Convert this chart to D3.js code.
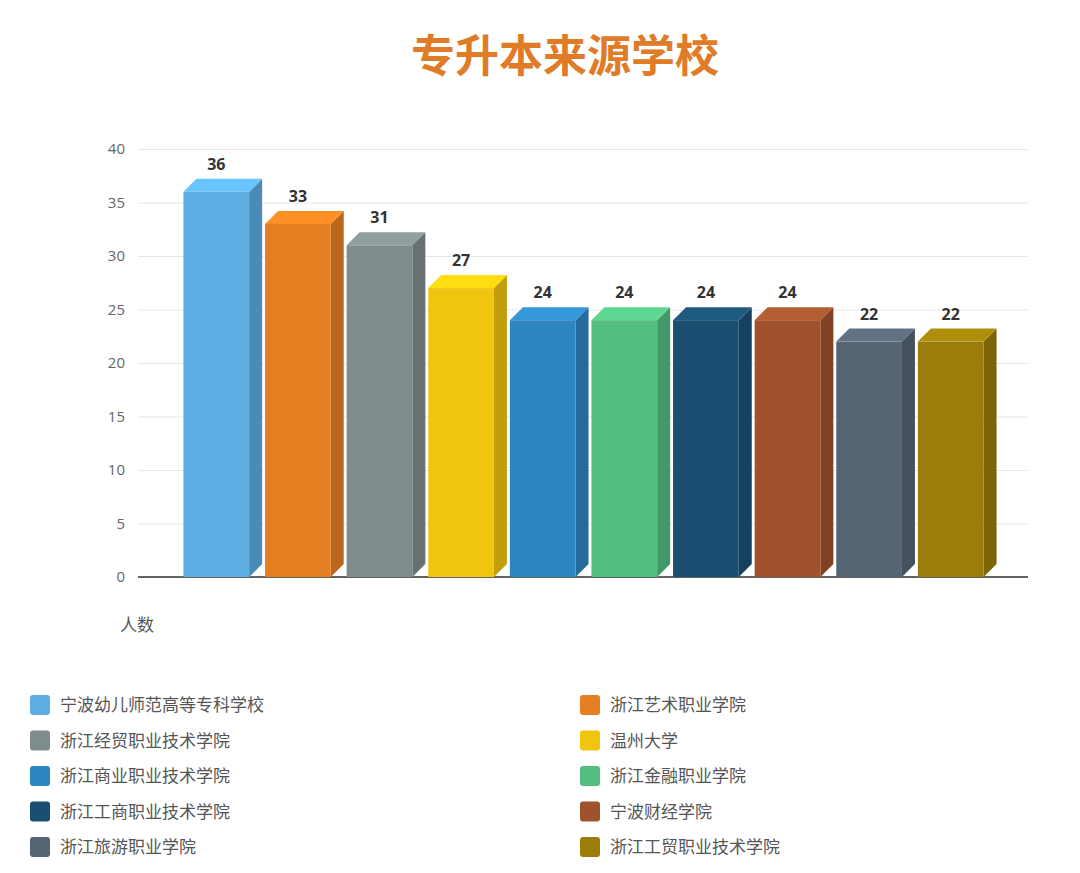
<!DOCTYPE html>
<html>
<head>
<meta charset="utf-8">
<script src="https://cdn.jsdelivr.net/npm/d3@7"></script>
<style>
  body { margin: 0; background: #fff; }
  svg { display: block; font-family: "Noto Sans CJK SC", "Noto Sans", sans-serif; }
</style>
</head>
<body>
<div id="chart"></div>
<script>
// chart data
var schools = ["宁波幼儿师范高等专科学校", "浙江艺术职业学院", "浙江经贸职业技术学院", "温州大学",
  "浙江商业职业技术学院", "浙江金融职业学院", "浙江工商职业技术学院", "宁波财经学院",
  "浙江旅游职业学院", "浙江工贸职业技术学院"];
var counts = [36, 33, 31, 27, 24, 24, 24, 24, 22, 22];
var yTicks = [0, 5, 10, 15, 20, 25, 30, 35, 40];
var colors = ["#5DADE2", "#E67E22", "#7F8C8D", "#F1C40F", "#2E86C1",
  "#52BE80", "#1B4F72", "#A0522D", "#566573", "#9A7D0A"];

var svgWidth = 1080, svgHeight = 873;
var margin = { top: 149, right: 52, bottom: 296, left: 138 };
var width = svgWidth - margin.left - margin.right;
var height = svgHeight - margin.top - margin.bottom;
var depth = 13;

var svg = d3.select("#chart").append("svg")
  .attr("width", svgWidth)
  .attr("height", svgHeight);

// title
svg.append("text")
  .attr("x", 565)
  .attr("y", 72)
  .attr("text-anchor", "middle")
  .style("font-size", "44px")
  .style("font-weight", "bold")
  .style("fill", "#E07B28")
  .text("专升本来源学校");

var chartGroup = svg.append("g")
  .attr("transform", `translate(${margin.left}, ${margin.top})`);

var x = d3.scaleBand()
  .domain(schools)
  .range([3, width - 2])
  .paddingInner(0.195)
  .paddingOuter(0.52);

var y = d3.scaleLinear()
  .domain([0, 40])
  .range([height, 0]);

// gridlines + tick labels
var leftAxis = d3.axisLeft(y).tickValues(yTicks).tickSize(-width).tickPadding(13);
var yAxisG = chartGroup.append("g").call(leftAxis);
yAxisG.select(".domain").remove();
yAxisG.selectAll(".tick line").attr("stroke", "#e6e6e6");
yAxisG.selectAll(".tick text")
  .style("font-size", "15px")
  .style("fill", "#666")
  .style("font-family", "'Open Sans', 'Noto Sans', sans-serif");

// baseline
chartGroup.append("line")
  .attr("x1", 0).attr("x2", width)
  .attr("y1", height).attr("y2", height)
  .attr("stroke", "#333")
  .attr("stroke-width", 1.5);

var data = schools.map(function (s, i) { return { name: s, value: counts[i], color: colors[i] }; });

var bars = chartGroup.selectAll(".bar3d")
  .data(data)
  .enter()
  .append("g")
  .attr("class", "bar3d");

// side face
bars.append("polygon")
  .attr("points", function (d) {
    var x1 = x(d.name) + x.bandwidth(), yt = y(d.value), y0 = y(0);
    return [[x1, yt], [x1 + depth, yt - depth], [x1 + depth, y0 - depth], [x1, y0]].join(" ");
  })
  .attr("fill", function (d) { return d3.color(d.color).darker(0.6); });

// top face
bars.append("polygon")
  .attr("points", function (d) {
    var x0 = x(d.name), x1 = x0 + x.bandwidth(), yt = y(d.value);
    return [[x0, yt], [x0 + depth, yt - depth], [x1 + depth, yt - depth], [x1, yt]].join(" ");
  })
  .attr("fill", function (d) { return d3.color(d.color).brighter(0.35); });

// front face
bars.append("rect")
  .attr("x", function (d) { return x(d.name); })
  .attr("y", function (d) { return y(d.value); })
  .attr("width", x.bandwidth())
  .attr("height", function (d) { return y(0) - y(d.value); })
  .attr("fill", function (d) { return d.color; });

// value labels
bars.append("text")
  .attr("x", function (d) { return x(d.name) + x.bandwidth() / 2; })
  .attr("y", function (d) { return y(d.value) - depth - 9; })
  .attr("text-anchor", "middle")
  .style("font-size", "16px")
  .style("font-weight", "bold")
  .style("fill", "#333")
  .style("font-family", "'Open Sans', 'Noto Sans', sans-serif")
  .text(function (d) { return d.value; });

// axis label
svg.append("text")
  .attr("x", 120)
  .attr("y", 631)
  .style("font-size", "17px")
  .style("fill", "#555")
  .text("人数");

// legend, two columns
var legend = svg.selectAll(".legend")
  .data(data)
  .enter()
  .append("g")
  .attr("class", "legend")
  .attr("transform", function (d, i) {
    var col = i % 2, row = Math.floor(i / 2);
    return `translate(${col === 0 ? 30 : 580}, ${695 + row * 35.5})`;
  });

legend.append("rect")
  .attr("width", 20)
  .attr("height", 20)
  .attr("rx", 3)
  .attr("fill", function (d) { return d.color; });

legend.append("text")
  .attr("x", 30)
  .attr("y", 16)
  .style("font-size", "17px")
  .style("fill", "#555")
  .text(function (d) { return d.name; });
</script>
</body>
</html>
